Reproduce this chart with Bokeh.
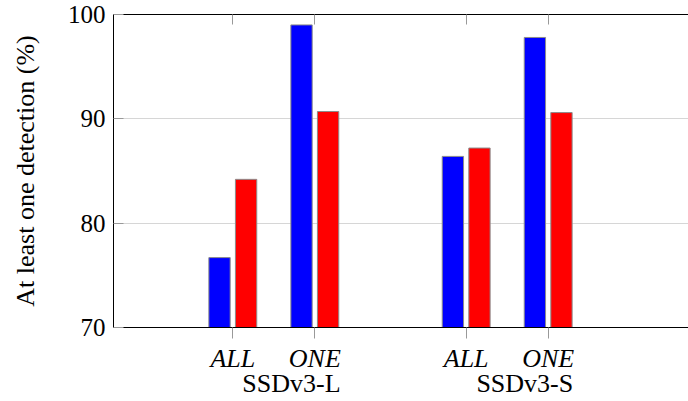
from bokeh.plotting import figure
from bokeh.models import ColumnDataSource, Range1d, LinearAxis, FixedTicker
from bokeh.transform import dodge
from bokeh.embed import file_html
from bokeh.resources import INLINE

groups = ["SSDv3-L", "SSDv3-S"]
modes = ["ALL", "ONE"]
blue_vals = [76.7, 99.0, 86.4, 97.8]
red_vals = [84.2, 90.7, 87.2, 90.6]
y_ticks = [70, 80, 90, 100]

GROUP_GAP = 2.846
xs = [g * GROUP_GAP + m for g in range(len(groups)) for m in range(len(modes))]
mode_labels = [m for g in groups for m in modes]
group_centers = [g * GROUP_GAP + (len(modes) - 1) / 2 + 0.215 for g in range(len(groups))]

src = ColumnDataSource(dict(x=xs, blue=blue_vals, red=red_vals))

FONT = "Liberation Serif"
FW = 575
p = figure(frame_width=FW, frame_height=313, output_backend="svg", toolbar_location=None,
           x_range=Range1d(-1.455, -1.455 + FW / 82.0), y_range=Range1d(70, 100),
           min_border_left=113, min_border_right=0, min_border_top=14, min_border_bottom=74)
p.outline_line_color = None
p.background_fill_color = "white"
p.border_fill_color = "white"

bw = 0.26
off = 0.162
p.vbar(x=dodge("x", -off, range=p.x_range), top="blue", bottom=70, width=bw, source=src,
       fill_color="#0000ff", line_color="#8c8c8c", line_width=1)
p.vbar(x=dodge("x", off, range=p.x_range), top="red", bottom=70, width=bw, source=src,
       fill_color="#ff0000", line_color="#8c8c8c", line_width=1)

# grid
p.xgrid.grid_line_color = None
p.ygrid.grid_line_color = "#d6d6d6"
p.ygrid.grid_line_width = 1

# left axis
ya = p.yaxis[0]
ya.ticker = FixedTicker(ticks=y_ticks)
ya.major_tick_in = 10
ya.major_tick_out = 0
ya.major_tick_line_color = "#999999"
ya.minor_tick_line_color = None
ya.axis_line_color = "black"
ya.major_label_text_font = FONT
ya.major_label_text_font_size = "25px"
ya.major_label_text_color = "black"
ya.major_label_standoff = 8
ya.axis_label = "At least one detection (%)"
ya.axis_label_text_font = FONT
ya.axis_label_text_font_size = "26px"
ya.axis_label_text_font_style = "normal"
ya.axis_label_text_color = "black"
ya.axis_label_standoff = 25

# bottom axis (modes)
xa = p.xaxis[0]
xa.ticker = FixedTicker(ticks=xs)
xa.major_label_overrides = {x: lab for x, lab in zip(xs, mode_labels)}
xa.major_tick_in = 0
xa.major_tick_out = 11
xa.major_tick_line_color = "#999999"
xa.minor_tick_line_color = None
xa.axis_line_color = "black"
xa.major_label_text_font = FONT
xa.major_label_text_font_size = "26px"
xa.major_label_text_font_style = "italic"
xa.major_label_text_color = "black"
xa.major_label_standoff = 5

# group axis below the mode labels
ga = LinearAxis(ticker=FixedTicker(ticks=group_centers),
                major_label_overrides={x: g for x, g in zip(group_centers, groups)})
ga.major_tick_in = 0
ga.major_tick_out = 0
ga.minor_tick_line_color = None
ga.axis_line_color = None
ga.major_label_text_font = FONT
ga.major_label_text_font_size = "26px"
ga.major_label_text_color = "black"
ga.major_label_standoff = -7
p.add_layout(ga, "below")

# top axis
ta = LinearAxis(ticker=FixedTicker(ticks=xs))
ta.major_tick_in = 10
ta.major_tick_out = 0
ta.major_tick_line_color = "#999999"
ta.minor_tick_line_color = None
ta.axis_line_color = "black"
ta.major_label_text_font_size = "0px"
ta.major_label_text_color = None
ta.major_label_standoff = 0
p.add_layout(ta, "above")

open("out.html", "w").write(file_html(p, INLINE))
